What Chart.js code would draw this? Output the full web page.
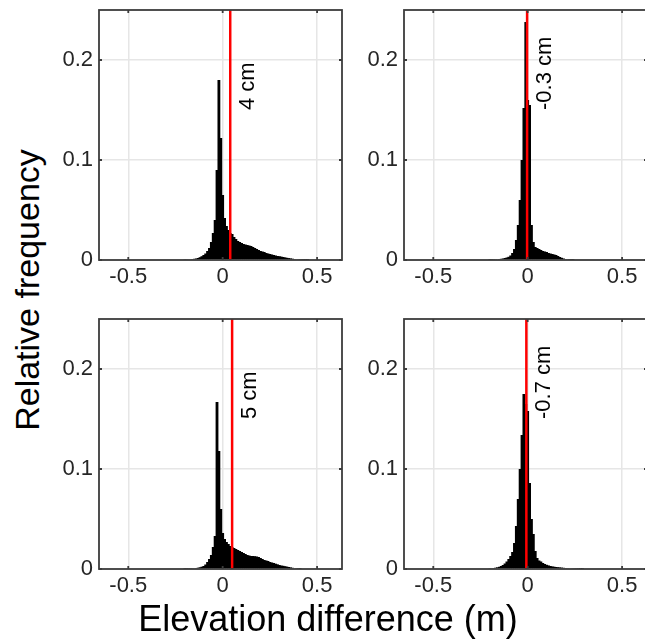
<!DOCTYPE html>
<html>
<head>
<meta charset="utf-8">
<script src="https://cdn.jsdelivr.net/npm/chart.js@4.4.1/dist/chart.umd.min.js"></script>
<style>
    html, body { margin: 0; padding: 0; background: #fff; overflow: hidden; width: 645px; height: 640px; }
    .panel { position: absolute; width: 293px; height: 300px; }
    .title { position: absolute; font-family: "Liberation Sans", Arial, sans-serif; color: #000;
             white-space: nowrap; }
    #ylab { font-size: 34px; line-height: 34px; left: 27px; top: 290px; transform: translate(-50%, -50%) rotate(-90deg); }
    #xlab { font-size: 36px; line-height: 36px; left: 328px; top: 601px; transform: translateX(-50%); }
</style>
</head>
<body>
<div class="panel" style="left:59px;top:0px"><canvas id="p0"></canvas></div>
<div class="panel" style="left:364px;top:0px"><canvas id="p1"></canvas></div>
<div class="panel" style="left:59px;top:309px"><canvas id="p2"></canvas></div>
<div class="panel" style="left:364px;top:309px"><canvas id="p3"></canvas></div>
<div class="title" id="ylab">Relative frequency</div>
<div class="title" id="xlab">Elevation difference (m)</div>

<script>
// bin centres (m), 0.01 wide
const BIN_CENTERS = [
    -0.20, -0.19, -0.18, -0.17, -0.16, -0.15, -0.14, -0.13, -0.12, -0.11,
    -0.10, -0.09, -0.08, -0.07, -0.06, -0.05, -0.04, -0.03, -0.02, -0.01,
     0.00,  0.01,  0.02,  0.03,  0.04,  0.05,  0.06,  0.07,  0.08,  0.09,
     0.10,  0.11,  0.12,  0.13,  0.14,  0.15,  0.16,  0.17,  0.18,  0.19,
     0.20,  0.21,  0.22,  0.23,  0.24,  0.25,  0.26,  0.27,  0.28,  0.29,
     0.30,  0.31,  0.32,  0.33,  0.34,  0.35,  0.36,  0.37,  0.38,  0.39,
     0.40,  0.41,  0.42,  0.43,  0.44,  0.45
];

// top left
const FREQ_TL = [
    0.0005, 0.0006, 0.0007, 0.0008, 0.001, 0.0012, 0.0015, 0.002, 0.0028, 0.0038,
    0.005, 0.0065, 0.009, 0.012, 0.018, 0.027, 0.04, 0.09, 0.18, 0.122,
    0.065, 0.042, 0.034, 0.03, 0.027, 0.026, 0.023, 0.021, 0.019, 0.018,
    0.017, 0.016, 0.0155, 0.015, 0.0145, 0.014, 0.013, 0.012, 0.011, 0.010,
    0.009, 0.0085, 0.008, 0.007, 0.0065, 0.006, 0.0055, 0.005, 0.0045, 0.004,
    0.0038, 0.0034, 0.003, 0.0026, 0.0022, 0.0019, 0.0016, 0.0013, 0.001, 0.0008,
    0.0006, 0.0004, 0.0003, 0.0002, 0.0001, 0.0001
];

// top right
const FREQ_TR = [
    0.0003, 0.0004, 0.0005, 0.0006, 0.0008, 0.001, 0.0012, 0.0015, 0.002, 0.0025,
    0.0032, 0.0045, 0.007, 0.011, 0.02, 0.035, 0.06, 0.10, 0.152, 0.238,
    0.16, 0.155, 0.035, 0.018, 0.013, 0.012, 0.011, 0.010, 0.009, 0.0085,
    0.008, 0.007, 0.0065, 0.006, 0.0055, 0.005, 0.004, 0.003, 0.0022, 0.0015,
    0.001, 0.0006, 0.0004, 0.0002, 0.0001, 0, 0, 0, 0, 0,
    0, 0, 0, 0, 0, 0, 0, 0, 0, 0,
    0, 0, 0, 0, 0, 0
];

// bottom left
const FREQ_BL = [
    0.0002, 0.0003, 0.0004, 0.0005, 0.0006, 0.0008, 0.001, 0.0013, 0.0017, 0.0023,
    0.003, 0.0045, 0.007, 0.01, 0.014, 0.022, 0.033, 0.167, 0.118, 0.06,
    0.036, 0.03, 0.027, 0.025, 0.023, 0.022, 0.021, 0.02, 0.019, 0.018,
    0.017, 0.016, 0.015, 0.014, 0.0135, 0.013, 0.013, 0.0128, 0.0125, 0.012,
    0.011, 0.010, 0.009, 0.0085, 0.008, 0.007, 0.0065, 0.006, 0.0053, 0.0047,
    0.004, 0.0035, 0.0032, 0.0028, 0.0024, 0.002, 0.0016, 0.0012, 0.0008, 0.0005,
    0.0003, 0.0001, 0, 0, 0, 0
];

// bottom right
const FREQ_BR = [
    0.0005, 0.0007, 0.001, 0.0013, 0.0017, 0.0022, 0.003, 0.004, 0.0055, 0.0075,
    0.01, 0.013, 0.017, 0.026, 0.043, 0.07, 0.10, 0.134, 0.175, 0.165,
    0.158, 0.086, 0.05, 0.035, 0.018, 0.011, 0.0085, 0.0075, 0.006, 0.005,
    0.0042, 0.0036, 0.003, 0.0026, 0.0023, 0.002, 0.0018, 0.0016, 0.0014, 0.0012,
    0.001, 0.0009, 0.0008, 0.0007, 0.0006, 0.0005, 0.0004, 0.0003, 0.0002, 0.0001,
    0, 0, 0, 0, 0, 0, 0, 0, 0, 0,
    0, 0, 0, 0, 0, 0
];

const MEAN_CM     = [4, -0.3, 5, -0.7];
const MEAN_LABELS = ['4 cm', '-0.3 cm', '5 cm', '-0.7 cm'];

const X_TICKS = [-0.5, 0, 0.5];
const X_TICK_LABELS = ['-0.5', '0', '0.5'];
const Y_TICKS = [0, 0.1, 0.2];
const Y_TICK_LABELS = ['0', '0.1', '0.2'];

const FONT = '"Liberation Sans", Arial, sans-serif';
const AXIS_COLOR = '#3c3c3c';

// box + inward ticks, MATLAB style
const boxPlugin = {
    id: 'box',
    afterDatasetsDraw(chart) {
        const { ctx, chartArea: a, scales: { x, y } } = chart;
        ctx.save();
        ctx.strokeStyle = AXIS_COLOR;
        ctx.lineWidth = 1.8;
        ctx.beginPath();
        X_TICKS.forEach(v => {
            const px = x.getPixelForValue(v);
            ctx.moveTo(px, a.bottom); ctx.lineTo(px, a.bottom - 3);
            ctx.moveTo(px, a.top);    ctx.lineTo(px, a.top + 3);
        });
        Y_TICKS.forEach(v => {
            const py = y.getPixelForValue(v);
            ctx.moveTo(a.left, py);  ctx.lineTo(a.left + 3, py);
            ctx.moveTo(a.right, py); ctx.lineTo(a.right - 3, py);
        });
        ctx.stroke();
        ctx.strokeRect(a.left, a.top, a.right - a.left, a.bottom - a.top);
        ctx.restore();
    }
};

// rotated mean label next to the red line
const meanLabelPlugin = {
    id: 'meanLabel',
    afterDatasetsDraw(chart, args, opts) {
        const { ctx, scales: { x, y } } = chart;
        const px = x.getPixelForValue(opts.value) + 24;
        const py = y.getPixelForValue(0.15);
        ctx.save();
        ctx.translate(px, py);
        ctx.rotate(-Math.PI / 2);
        ctx.font = `22px ${FONT}`;
        ctx.fillStyle = '#000';
        ctx.textAlign = 'left';
        ctx.textBaseline = 'alphabetic';
        ctx.fillText(opts.text, 0, 0);
        ctx.restore();
    }
};

function makePanel(id, freq, idx) {
    const mean = MEAN_CM[idx] / 100;
    return new Chart(document.getElementById(id), {
        type: 'bar',
        data: {
            datasets: [
                {
                    type: 'line',
                    data: [{ x: mean, y: 0 }, { x: mean, y: 0.25 }],
                    borderColor: '#ff0000',
                    borderWidth: 2.5,
                    pointRadius: 0,
                    order: 1,
                },
                {
                    type: 'bar',
                    data: BIN_CENTERS.map((c, i) => ({ x: c, y: freq[i] })),
                    backgroundColor: '#000',
                    borderWidth: 0,
                    barPercentage: 1.5,
                    categoryPercentage: 1,
                    order: 2,
                }
            ]
        },
        options: {
            responsive: true,
            maintainAspectRatio: false,
            animation: false,
            events: [],
            layout: { padding: { top: 10, right: 10, left: 0, bottom: 0 } },
            plugins: {
                legend: { display: false },
                tooltip: { enabled: false },
                meanLabel: { value: mean, text: MEAN_LABELS[idx] },
            },
            scales: {
                x: {
                    type: 'linear',
                    min: -0.655,
                    max: 0.632,
                    bounds: 'data',
                    offset: false,
                    afterFit: s => { s.height = 40; s.paddingLeft = 0; s.paddingRight = 0; },
                    afterBuildTicks: s => { s.ticks = X_TICKS.map(v => ({ value: v })); },
                    grid: { color: '#e6e6e6', lineWidth: 1.5, offset: false, drawTicks: false },
                    border: { display: false },
                    ticks: {
                        color: '#262626',
                        font: { family: FONT, size: 22 },
                        padding: 4,
                        maxRotation: 0,
                        callback: v => X_TICK_LABELS[X_TICKS.indexOf(v)],
                    }
                },
                y: {
                    min: 0,
                    max: 0.25,
                    bounds: 'data',
                    afterFit: s => { s.width = 40; s.paddingTop = 0; s.paddingBottom = 0; },
                    afterBuildTicks: s => { s.ticks = Y_TICKS.map(v => ({ value: v })); },
                    grid: { color: '#e6e6e6', lineWidth: 1.5, drawTicks: false },
                    border: { display: false },
                    ticks: {
                        color: '#262626',
                        font: { family: FONT, size: 22 },
                        padding: 6,
                        callback: v => Y_TICK_LABELS[Y_TICKS.indexOf(v)],
                    }
                }
            }
        },
        plugins: [boxPlugin, meanLabelPlugin]
    });
}

makePanel('p0', FREQ_TL, 0);
makePanel('p1', FREQ_TR, 1);
makePanel('p2', FREQ_BL, 2);
makePanel('p3', FREQ_BR, 3);
</script>
</body>
</html>
